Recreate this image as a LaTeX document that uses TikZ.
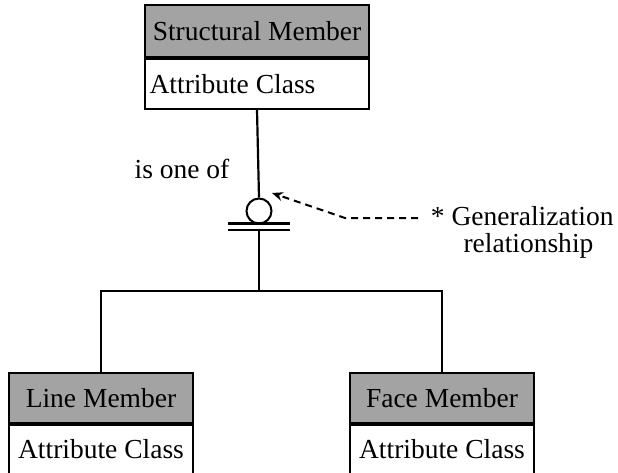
\documentclass[tikz,border=0pt]{standalone}
\usepackage{fontspec}
\setmainfont{Liberation Serif}
\usetikzlibrary{arrows.meta,positioning}

\begin{document}
\begin{tikzpicture}[x=1pt,y=1pt,
  txt/.style={font=\fontsize{27.5}{30}\selectfont},
  head/.style={txt,draw=black,line width=1.8pt,fill=black!36,minimum height=52pt,inner sep=0pt},
  body/.style={txt,draw=black,line width=1.8pt,fill=white,minimum height=50pt,inner sep=0pt},
  link/.style={line width=2.2pt},
  pointer/.style={line width=2pt,dash pattern=on 7pt off 5pt,-{Stealth[length=11pt,width=9pt]}}
]
\useasboundingbox (0,0) rectangle (618,-473);

% superclass
\node[head,minimum width=224pt] (smh) at (257,-31) {Structural Member};
\node[body,minimum width=224pt,anchor=north] (smb) at (smh.south) {};
\node[txt,anchor=west] (smt) at ([xshift=2pt]smb.west) {Attribute Class};

% subclasses
\node[head,minimum width=184pt,minimum height=50pt] (lmh) at (101,-398) {Line Member};
\node[body,minimum width=184pt,minimum height=49pt,anchor=north] (lmb) at (lmh.south) {Attribute Class};
\node[head,minimum width=184pt,minimum height=50pt] (fmh) at (442,-398) {Face Member};
\node[body,minimum width=184pt,minimum height=49pt,anchor=north] (fmb) at (fmh.south) {Attribute Class};

% generalization symbol: circle over a double bar
\node[circle,draw=black,line width=2pt,minimum size=25pt,inner sep=0pt] (gen) at (259,-211) {};
\coordinate (barL1) at (228,-223.5);
\coordinate (barR1) at (290,-223.5);
\coordinate (barL2) at (228,-230);
\coordinate (barR2) at (290,-230);
\coordinate (bar) at (259,-230);
\draw[link] (barL1) -- (barR1);
\draw[link] (barL2) -- (barR2);

% connectors
\coordinate (split) at (259,-291);
\draw[link] (smb.south) -- (gen.north);
\draw[link] (bar) -- (split);
\draw[link] (lmh.north) |- (split) -| (fmh.north);

\node[txt] (isone) at (182,-169) {is one of};

% note on the symbol
\coordinate (tip) at (272,-193);
\coordinate (bend) at (345,-218);
\coordinate (tail) at (418,-218);
\draw[pointer] (tail) -- (bend) -- (tip);
\node[txt,anchor=east] (note1) at (617,-216) {* Generalization};
\node[txt,anchor=west] (note2) at (460,-246) {relationship};
\end{tikzpicture}
\end{document}
